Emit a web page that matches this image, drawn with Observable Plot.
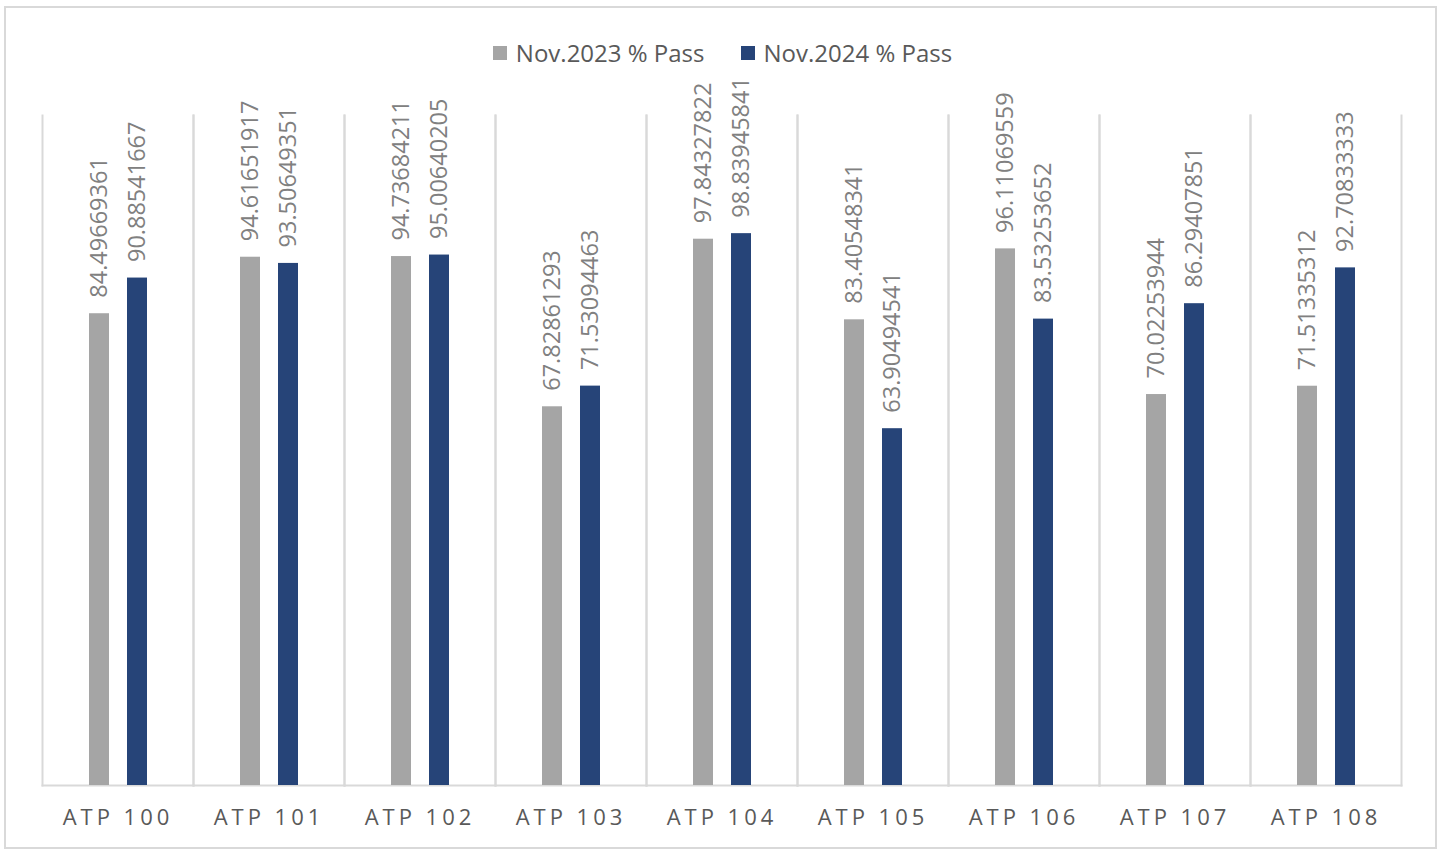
<!DOCTYPE html>
<html>
<head>
<meta charset="utf-8">
<script src="https://cdn.jsdelivr.net/npm/d3@7"></script>
<script src="https://cdn.jsdelivr.net/npm/@observablehq/plot@0.6"></script>
<style>
  html, body { margin: 0; padding: 0; background: #ffffff; }
  body { position: relative; width: 1445px; height: 851px; overflow: hidden; font-family: "Open Sans", "Liberation Sans", sans-serif; }
  #frame { position: absolute; left: 4px; top: 6px; width: 1433px; height: 843px; box-sizing: border-box; border: 2px solid #d9d9d9; }
  #legend { position: absolute; left: 0; top: 36px; width: 1445px; display: flex; justify-content: center; align-items: center; font-size: 24px; color: #595959; z-index: 2; }
  #legend .item { display: flex; align-items: center; margin: 0 18px; }
  #legend .sw { width: 14px; height: 14px; margin-right: 9px; display: inline-block; }
  #chart { position: absolute; left: 0; top: 70px; }
</style>
</head>
<body>
<div id="frame"></div>
<div id="legend"></div>
<div id="chart"></div>
<script>
const categories = ["ATP 100", "ATP 101", "ATP 102", "ATP 103", "ATP 104", "ATP 105", "ATP 106", "ATP 107", "ATP 108"];
const seriesNames = ["Nov.2023 % Pass", "Nov.2024 % Pass"];
const pass2023 = [84.49669361, 94.61651917, 94.73684211, 67.82861293, 97.84327822, 83.40548341, 96.11069559, 70.02253944, 71.51335312];
const pass2024 = [90.88541667, 93.50649351, 95.00640205, 71.53094463, 98.83945841, 63.90494541, 83.53253652, 86.29407851, 92.70833333];
const seriesColors = ["#a5a5a5", "#264478"];

const data = [];
categories.forEach((c, i) => {
  data.push({category: c, series: seriesNames[0], value: pass2023[i]});
  data.push({category: c, series: seriesNames[1], value: pass2024[i]});
});

// legend
const legend = document.getElementById("legend");
seriesNames.forEach((s, i) => {
  const item = document.createElement("div");
  item.className = "item";
  const sw = document.createElement("span");
  sw.className = "sw";
  sw.style.background = seriesColors[i];
  item.appendChild(sw);
  item.appendChild(document.createTextNode(s));
  legend.appendChild(item);
});

const plot = Plot.plot({
  width: 1445,
  height: 770,
  marginLeft: 40,
  marginRight: 43,
  marginTop: 45,
  marginBottom: 55,
  style: {fontFamily: "'Open Sans', 'Liberation Sans', sans-serif", background: "transparent", overflow: "visible"},
  fx: {domain: categories, padding: 0, label: null},
  x: {domain: seriesNames, paddingInner: 0.48, paddingOuter: 1.2, axis: null},
  y: {domain: [0, 120], axis: null},
  color: {domain: seriesNames, range: seriesColors},
  marks: [
    Plot.frame({anchor: "left", stroke: "#d9d9d9", strokeWidth: 2}),
    Plot.frame({anchor: "right", stroke: "#d9d9d9", strokeWidth: 2}),
    Plot.frame({anchor: "bottom", stroke: "#d9d9d9", strokeWidth: 2}),
    Plot.barY(data, {fx: "category", x: "series", y: "value", fill: "series"}),
    Plot.text(data, {
      fx: "category", x: "series", y: "value",
      text: d => String(d.value),
      rotate: -90, textAnchor: "start", dy: -16,
      fontSize: 23.5, fill: "#808080"
    }),
    Plot.axisFx({anchor: "bottom", tickSize: 0, tickPadding: 24, fontSize: 22, fill: "#595959", label: null})
  ]
});
document.getElementById("chart").appendChild(plot);
d3.select(plot).selectAll('g[aria-label="fx-axis tick label"] text').attr("letter-spacing", "4px");
</script>
</body>
</html>
